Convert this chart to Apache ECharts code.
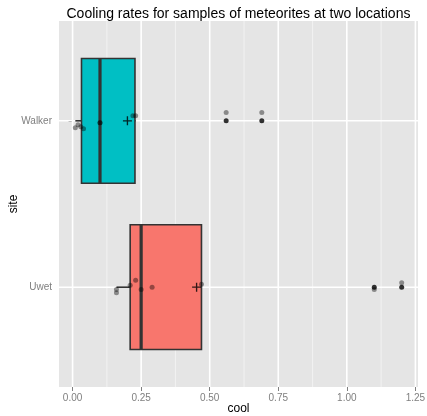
<!DOCTYPE html>
<html>
<head>
<meta charset="utf-8">
<script src="https://cdn.jsdelivr.net/npm/echarts@6/dist/echarts.min.js"></script>
<style>
html,body{margin:0;padding:0;background:#fff;}
#chart{width:427px;height:416px;}
</style>
</head>
<body>
<div id="chart"></div>
<script>
// ---- data ----
const sites = ['Uwet', 'Walker'];
const uwetCool = [0.21, 0.25, 0.16, 0.23, 0.47, 1.20, 0.29, 1.10, 0.16];
const walkerCool = [0.69, 0.23, 0.10, 0.03, 0.56, 0.10, 0.01, 0.02, 0.04, 0.22];
// vertical jitter offsets (category units)
const uwetJitter = [0.012, -0.014, -0.014, 0.042, 0.018, 0.026, 0.0, -0.014, -0.034];
const walkerJitter = [0.05, 0.03, -0.012, -0.036, 0.05, -0.012, -0.042, -0.024, -0.048, 0.03];
const xTicks = [0, 0.25, 0.5, 0.75, 1.0, 1.25];
const xMinor = [0.125, 0.375, 0.625, 0.875, 1.125];
const siteColors = ['#F8766D', '#00BFC4'];

// ---- stats ----
function quantile(sorted, p) {
  const h = (sorted.length - 1) * p;
  const lo = Math.floor(h), hi = Math.ceil(h);
  return sorted[lo] + (h - lo) * (sorted[hi] - sorted[lo]);
}
function boxStats(vals) {
  const s = vals.slice().sort((a, b) => a - b);
  const q1 = quantile(s, 0.25), med = quantile(s, 0.5), q3 = quantile(s, 0.75);
  const iqr = q3 - q1;
  const inside = s.filter(v => v >= q1 - 1.5 * iqr && v <= q3 + 1.5 * iqr);
  const out = s.filter(v => v < q1 - 1.5 * iqr || v > q3 + 1.5 * iqr);
  const mean = vals.reduce((a, b) => a + b, 0) / vals.length;
  return { q1, med, q3, lo: inside[0], hi: inside[inside.length - 1], out, mean };
}
const groups = [uwetCool, walkerCool];
const jitters = [uwetJitter, walkerJitter];
const stats = groups.map(boxStats);

const all = uwetCool.concat(walkerCool);
const dMin = Math.min(...all), dMax = Math.max(...all);
const xMin = dMin - 0.05 * (dMax - dMin);
const xMax = dMax + 0.05 * (dMax - dMin);
const yMin = 0.4, yMax = 2.6;

const boxData = stats.map((s, i) => [s.q1, i + 1, s.med, s.q3, s.lo, s.hi, i]);
const outlierData = [];
stats.forEach((s, i) => s.out.forEach(v => outlierData.push([v, i + 1])));
const jitterData = [];
groups.forEach((g, i) => g.forEach((v, j) => jitterData.push([v, i + 1 + jitters[i][j]])));
const meanData = stats.map((s, i) => [s.mean, i + 1]);

const gridData = [];
xMinor.forEach(v => gridData.push([v, 0]));
xTicks.forEach(v => gridData.push([v, 1]));
[1, 2].forEach(v => gridData.push([v, 2]));

const FONT = 'Liberation Sans, Arial, sans-serif';
const chart = echarts.init(document.getElementById('chart'), null, { renderer: 'canvas' });
chart.setOption({
  animation: false,
  backgroundColor: '#ffffff',
  graphic: [{
    type: 'text', left: 238.5 - 172, top: 7,
    style: { text: 'Cooling rates for samples of meteorites at two locations', font: '14px Liberation Sans, Arial, sans-serif', fill: '#000', textAlign: 'left' }
  }],
  grid: { left: 59, right: 9, top: 21, bottom: 29, show: true, backgroundColor: '#E5E5E5', borderWidth: 0, containLabel: false, outerBoundsMode: 'none' },
  xAxis: {
    type: 'value', min: xMin, max: xMax,
    name: 'cool', nameLocation: 'middle', nameGap: 16, nameMoveOverlap: false,
    nameTextStyle: { fontFamily: FONT, fontSize: 12, color: '#000' },
    axisLine: { show: false },
    axisTick: { show: true, length: 4, customValues: xTicks, lineStyle: { color: '#7F7F7F', width: 1 } },
    axisLabel: { customValues: xTicks, formatter: v => v.toFixed(2), fontFamily: FONT, fontSize: 10, color: '#7F7F7F', margin: 6 },
    splitLine: { show: false }
  },
  yAxis: {
    type: 'value', min: yMin, max: yMax,
    name: 'site', nameLocation: 'middle', nameGap: 39, nameRotate: 90, nameMoveOverlap: false,
    nameTextStyle: { fontFamily: FONT, fontSize: 12, color: '#000' },
    axisLine: { show: false },
    axisTick: { show: true, length: 4, customValues: [1, 2], lineStyle: { color: '#7F7F7F', width: 1 } },
    axisLabel: { customValues: [1, 2], formatter: v => sites[Math.round(v) - 1], fontFamily: FONT, fontSize: 10, color: '#7F7F7F', margin: 7 },
    splitLine: { show: false }
  },
  series: [
    {
      type: 'custom', silent: true, data: gridData,
      renderItem: function (params, api) {
        const v = api.value(0), kind = api.value(1);
        let p1, p2;
        if (kind < 2) { p1 = api.coord([v, yMin]); p2 = api.coord([v, yMax]); }
        else { p1 = api.coord([xMin, v]); p2 = api.coord([xMax, v]); }
        return {
          type: 'line',
          shape: { x1: p1[0], y1: p1[1], x2: p2[0], y2: p2[1] },
          style: { stroke: kind === 0 ? '#F2F2F2' : '#FFFFFF', lineWidth: kind === 0 ? 1 : 1.6 }
        };
      }
    },
    {
      type: 'custom', silent: true, data: boxData,
      renderItem: function (params, api) {
        const q1 = api.value(0), y = api.value(1), med = api.value(2), q3 = api.value(3);
        const lo = api.value(4), hi = api.value(5), ci = api.value(6);
        const hw = 0.375;
        const a = api.coord([q1, y + hw]), b = api.coord([q3, y - hw]);
        const m1 = api.coord([med, y + hw]), m2 = api.coord([med, y - hw]);
        const l = api.coord([lo, y]), lq = api.coord([q1, y]);
        const h = api.coord([hi, y]), hq = api.coord([q3, y]);
        const stroke = '#333333';
        return {
          type: 'group',
          children: [
            { type: 'line', shape: { x1: l[0], y1: l[1], x2: lq[0], y2: lq[1] }, style: { stroke, lineWidth: 1.6 } },
            { type: 'line', shape: { x1: hq[0], y1: hq[1], x2: h[0], y2: h[1] }, style: { stroke, lineWidth: 1.6 } },
            { type: 'rect', shape: { x: a[0], y: a[1], width: b[0] - a[0], height: b[1] - a[1] },
              style: { fill: siteColors[ci], stroke, lineWidth: 1.6 } },
            { type: 'line', shape: { x1: m1[0], y1: m1[1], x2: m2[0], y2: m2[1] }, style: { stroke, lineWidth: 3.2 } }
          ]
        };
      }
    },
    {
      type: 'scatter', silent: true, data: outlierData, symbol: 'circle', symbolSize: 5,
      itemStyle: { color: '#000000' }
    },
    {
      type: 'scatter', silent: true, data: jitterData, symbol: 'circle', symbolSize: 5,
      itemStyle: { color: 'rgba(0,0,0,0.5)' }
    },
    {
      type: 'scatter', silent: true, data: meanData,
      symbol: 'path://M3.4,0H4.6V3.4H8V4.6H4.6V8H3.4V4.6H0V3.4H3.4Z', symbolSize: 9,
      itemStyle: { color: '#000000' }
    }
  ]
});
</script>
</body>
</html>
